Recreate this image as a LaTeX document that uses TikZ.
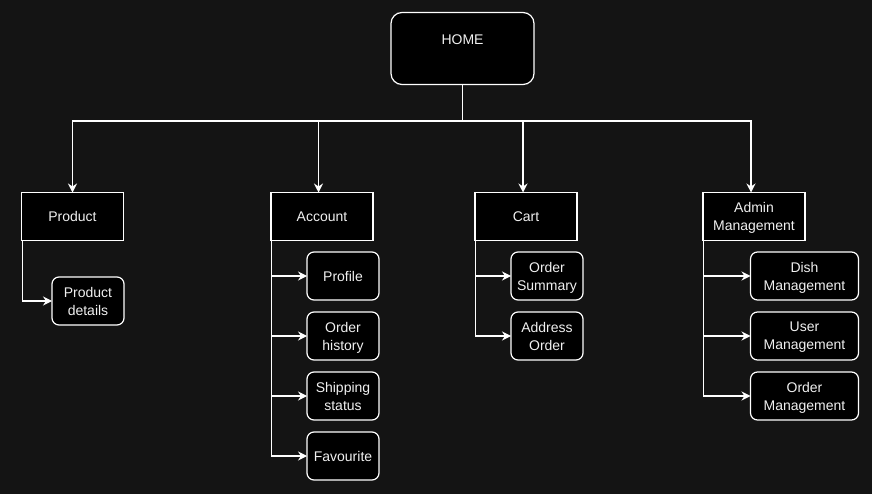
\documentclass[tikz,border=0pt]{standalone}
\usepackage{fontspec}
\setmainfont{Liberation Sans}
\usetikzlibrary{arrows.meta}
\definecolor{bg}{HTML}{141414}
\definecolor{txt}{HTML}{F0F0F0}
\begin{document}
\begin{tikzpicture}[x=1pt,y=-1pt,
  box/.style={draw=white, fill=black, line width=1.2pt, text=txt, inner sep=0pt, outer sep=0pt,
    font=\fontsize{14}{18}\selectfont, align=center, text depth=0pt},
  sq/.style={box, minimum width=102pt, minimum height=48pt},
  leaf/.style={box, rounded corners=7pt, minimum height=48pt},
  conn/.style={draw=white, line width=1.2pt},
  arr/.style={conn, -{Stealth[length=9pt,width=9pt,inset=3pt]}}]
\fill[bg] (0,0) rectangle (872,494);
\useasboundingbox (0,0) rectangle (872,494);
% HOME
\node[box, rounded corners=11pt, minimum width=143pt, minimum height=72pt] (home) at (462.5,48.5) {};
\node[text=txt, font=\fontsize{14}{18}\selectfont] (hometxt) at (462.5,39.5) {HOME};
% level 1
\node[sq] (prod) at (72.5,216.5) {Product};
\node[sq] (acc) at (322,216.5) {Account};
\node[sq] (cart) at (526,216.5) {Cart};
\node[sq] (adm) at (754,216.5) {Admin\\Management};
% leaves
\node[leaf, minimum width=72pt] (pd) at (88,301) {Product\\details};
\node[leaf, minimum width=72pt] (prof) at (343,276) {Profile};
\node[leaf, minimum width=72pt] (ohist) at (343,336) {Order\\history};
\node[leaf, minimum width=72pt] (ship) at (343,396) {Shipping\\status};
\node[leaf, minimum width=72pt] (fav) at (343,456) {Favourite};
\node[leaf, minimum width=72pt] (osum) at (547,276) {Order\\Summary};
\node[leaf, minimum width=72pt] (addr) at (547,336) {Address\\Order};
\node[leaf, minimum width=108pt] (dish) at (804.5,276) {Dish\\Management};
\node[leaf, minimum width=108pt] (user) at (804.5,336) {User\\Management};
\node[leaf, minimum width=108pt] (omgmt) at (804.5,396) {Order\\Management};
% top tree
\coordinate (j) at (462.5,121);
\draw[conn] (home.south) -- (j);
\draw[arr] (j) -| (prod.north);
\draw[arr] (j) -| ([xshift=-3.5pt]acc.north);
\draw[arr] (j) -| ([xshift=-3pt]cart.north);
\draw[arr] (j) -| ([xshift=-3pt]adm.north);
% sub trees
\draw[arr] ([xshift=0.6pt]prod.south west) |- (pd.west);
\foreach \c in {prof,ohist,ship,fav} \draw[arr] ([xshift=0.6pt]acc.south west) |- (\c.west);
\foreach \c in {osum,addr} \draw[arr] ([xshift=0.6pt]cart.south west) |- (\c.west);
\foreach \c in {dish,user,omgmt} \draw[arr] ([xshift=0.6pt]adm.south west) |- (\c.west);
\end{tikzpicture}
\end{document}
